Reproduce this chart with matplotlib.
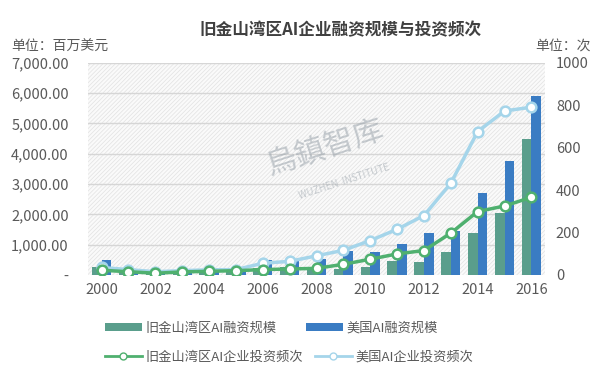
import numpy as np
import matplotlib
matplotlib.use("Agg")
import matplotlib.pyplot as plt
from matplotlib.patches import Patch
from matplotlib.lines import Line2D

plt.rcParams['font.family'] = ['Noto Sans CJK SC', 'DejaVu Sans']
plt.rcParams['hatch.linewidth'] = 0.5
plt.rcParams['hatch.color'] = '#e2e2e2'

years = list(range(2000, 2017))
# 融资规模 (百万美元)
sf_funding = [260, 100, 70, 90, 110, 140, 240, 260, 220, 190, 250, 470, 440, 770, 1400, 2050, 4500]
us_funding = [490, 160, 100, 120, 140, 180, 490, 470, 520, 800, 740, 1010, 1380, 1450, 2700, 3770, 5920]
# 投资频次 (次)
sf_deals = [22, 15, 8, 14, 17, 20, 25, 28, 31, 50, 74, 99, 115, 197, 299, 325, 366]
us_deals = [35, 25, 15, 20, 24, 25, 55, 64, 90, 116, 162, 215, 280, 432, 676, 773, 791]

c_sf_bar = '#5a9e8c'
c_us_bar = '#3a7cc3'
c_sf_line = '#4fb06f'
c_us_line = '#a5d5ea'
grey = '#595959'

fig = plt.figure(figsize=(6, 3.72), dpi=100)
fig.patch.set_facecolor('white')
ax = fig.add_axes([0.147, 0.261, 0.761, 0.570])
ax2 = ax.twinx()

x = np.arange(len(years))
w = 0.36

# hatched background
ax.add_patch(plt.Rectangle((0, 0), 1, 1, transform=ax.transAxes, facecolor='#fafafa',
                           edgecolor='#e2e2e2', hatch='////////', linewidth=0, zorder=0))

for v in range(1000, 8000, 1000):
    ax.axhline(v, color='#d6d6d6', linewidth=1, zorder=1)

ax.bar(x - w / 2, sf_funding, width=w, color=c_sf_bar, zorder=2)
ax.bar(x + w / 2, us_funding, width=w, color=c_us_bar, zorder=2)

ax2.plot(x, us_deals, color=c_us_line, linewidth=2.5, marker='o', markersize=7,
         markerfacecolor='white', markeredgecolor=c_us_line, markeredgewidth=1.8, zorder=3)
ax2.plot(x, sf_deals, color=c_sf_line, linewidth=2.5, marker='o', markersize=7,
         markerfacecolor='white', markeredgecolor=c_sf_line, markeredgewidth=1.8, zorder=4)

ax.set_xlim(-0.5, len(years) - 0.5)
ax.set_ylim(0, 7000)
ax2.set_ylim(0, 1000)

ax.set_yticks(range(0, 8000, 1000))
ax.set_yticklabels(['-'] + [f'{v:,.2f}' for v in range(1000, 8000, 1000)])
ax2.set_yticks(range(0, 1001, 200))
ax.set_xticks(x[::2])
ax.set_xticklabels([str(y) for y in years[::2]])

for a in (ax, ax2):
    for s in a.spines.values():
        s.set_visible(False)
    a.tick_params(length=0, labelsize=10.5, colors=grey)
ax.tick_params(axis='y', pad=14)
ax.tick_params(axis='x', pad=6)
ax2.tick_params(axis='y', pad=8)
ax2.set_zorder(ax.get_zorder() + 1)
ax2.patch.set_visible(False)

# watermark
ax.text(0.52, 0.6, '烏鎮智库', transform=ax.transAxes, fontsize=22, color='#9aa3ab',
        alpha=0.55, rotation=18, ha='center', va='center', zorder=1.5)
ax.text(0.56, 0.44, 'WUZHEN  INSTITUTE', transform=ax.transAxes, fontsize=7, color='#9aa3ab',
        alpha=0.55, rotation=18, ha='center', va='center', zorder=1.5)

fig.text(0.567, 0.918, '旧金山湾区AI企业融资规模与投资频次', ha='center', va='center',
         fontsize=12, fontweight='bold', color='#404040')
fig.text(0.018, 0.875, '单位：百万美元', ha='left', va='center', fontsize=10, color=grey)
fig.text(0.985, 0.875, '单位：次', ha='right', va='center', fontsize=10, color=grey)

handles1 = [Patch(facecolor=c_sf_bar), Patch(facecolor=c_us_bar)]
labels1 = ['旧金山湾区AI融资规模', '美国AI融资规模']
handles2 = [Line2D([], [], color=c_sf_line, linewidth=2, marker='o', markersize=5,
                   markerfacecolor='white', markeredgecolor=c_sf_line),
            Line2D([], [], color=c_us_line, linewidth=2, marker='o', markersize=5,
                   markerfacecolor='white', markeredgecolor=c_us_line)]
labels2 = ['旧金山湾区AI企业投资频次', '美国AI企业投资频次']

leg1 = fig.legend(handles1, labels1, ncol=2, loc='center left', bbox_to_anchor=(0.155, 0.118),
                  frameon=False, fontsize=9.5, handlelength=2.8, handleheight=0.5,
                  columnspacing=2.2, handletextpad=0.3, labelcolor=grey)
leg2 = fig.legend(handles2, labels2, ncol=2, loc='center left', bbox_to_anchor=(0.155, 0.040),
                  frameon=False, fontsize=9.5, handlelength=2.8,
                  columnspacing=0.85, handletextpad=0.3, labelcolor=grey)

fig.savefig('out.png', dpi=100, facecolor='white')
